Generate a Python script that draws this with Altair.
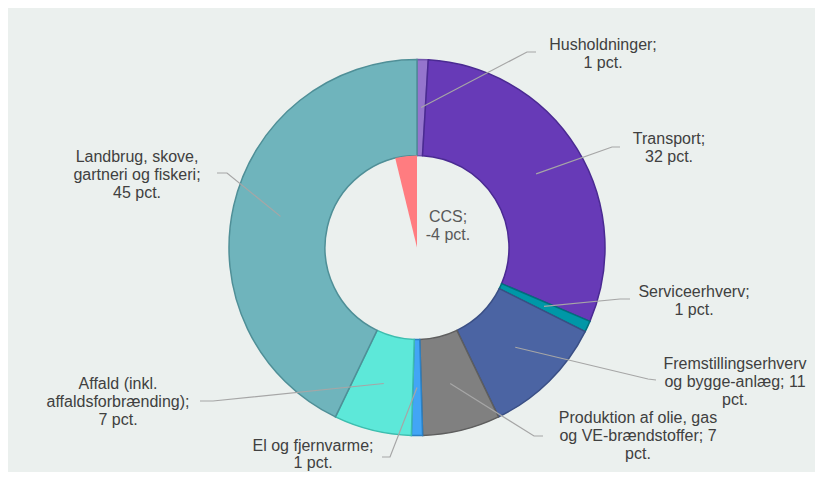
import math
import altair as alt
import pandas as pd

# ---- data ----
categories = [
    "Husholdninger",
    "Transport",
    "Serviceerhverv",
    "Fremstillingserhverv og bygge-anlæg",
    "Produktion af olie, gas og VE-brændstoffer",
    "El og fjernvarme",
    "Affald (inkl. affaldsforbrænding)",
    "Landbrug, skove, gartneri og fiskeri",
]
values = [1, 32, 1, 11, 7, 1, 7, 45]
ccs_label = "CCS"
ccs_value = -4

label_lines = [
    ["Husholdninger;", "1 pct."],
    ["Transport;", "32 pct."],
    ["Serviceerhverv;", "1 pct."],
    ["Fremstillingserhverv", "og bygge-anlæg; 11", "pct."],
    ["Produktion af olie, gas", "og VE-brændstoffer; 7", "pct."],
    ["El og fjernvarme;", "1 pct."],
    ["Affald (inkl.", "affaldsforbrænding);", "7 pct."],
    ["Landbrug, skove,", "gartneri og fiskeri;", "45 pct."],
]
ccs_lines = ["CCS;", "-4 pct."]

# ---- styles / layout ----
fills = ["#9575cd", "#673ab7", "#0097a7", "#4b64a3", "#808080", "#42a5f5", "#5de8d9", "#6fb4bc"]
strokes = ["#7356ad", "#4a2a92", "#00707c", "#3a4f85", "#5e5e5e", "#2b80c4", "#3dbdae", "#4f8f97"]
ccs_fill = "#ff7c80"

M = 8  # page margin
CX, CY = 417 - M, 247.5 - M
R_OUT, R_IN, R_LEAD = 188, 92, 140
total = sum(values)

# label anchor (center x, first-line y) in page pixels
label_pos = [(603, 45), (669, 139), (694, 292), (735, 364), (638, 418),
             (313, 446), (118, 384), (137, 157)]
line_gap = [18, 18, 18, 18, 18, 17, 18, 18]
ccs_pos = (448, 217)
# leader line elbow and end in page pixels
elbows = [(527, 52), (612, 147), (620, 299), (648, 379), (534, 436),
          (390, 457), (213, 401), (227, 173)]
ends = [(536, 52), (620, 147), (630, 299), (656, 380), (543, 436),
        (382, 457), (200, 401), (217, 173)]
LH = 18
FS = 16

# ---- tables ----
start, acc = [], 0
for v in values:
    start.append(acc)
    acc += v
df = pd.DataFrame({"cat": categories, "value": values, "start": start})
df["end"] = df["start"] + df["value"]

ccs_df = pd.DataFrame({"cat": [ccs_label], "start": [ccs_value], "end": [0]})

line_rows = []
for i, c in enumerate(categories):
    mid = (start[i] + values[i] / 2) / total * 2 * math.pi
    sx = CX + R_LEAD * math.sin(mid)
    sy = CY - R_LEAD * math.cos(mid)
    line_rows.append({"cat": c, "o": 0, "x": sx, "y": sy})
    line_rows.append({"cat": c, "o": 1, "x": elbows[i][0] - M, "y": elbows[i][1] - M})
    line_rows.append({"cat": c, "o": 2, "x": ends[i][0] - M, "y": ends[i][1] - M})
lines_df = pd.DataFrame(line_rows)

text_rows = []
for i, c in enumerate(categories):
    for j, t in enumerate(label_lines[i]):
        text_rows.append({"cat": c, "t": t, "x": label_pos[i][0] - M,
                          "y": label_pos[i][1] - M + j * line_gap[i]})
text_df = pd.DataFrame(text_rows)
ccs_text_df = pd.DataFrame([
    {"t": t, "x": ccs_pos[0] - M, "y": ccs_pos[1] - M + j * LH} for j, t in enumerate(ccs_lines)
])

theta_scale = alt.Scale(domain=[0, total], range=[0, 2 * math.pi])

ring = alt.Chart(df).mark_arc(outerRadius=R_OUT, innerRadius=R_IN, strokeWidth=1.5).encode(
    theta=alt.Theta("start:Q", scale=theta_scale, stack=None),
    theta2="end:Q",
    color=alt.Color("cat:N", scale=alt.Scale(domain=categories, range=fills), legend=None),
    stroke=alt.Stroke("cat:N", scale=alt.Scale(domain=categories, range=strokes), legend=None),
    x=alt.value(CX),
    y=alt.value(CY),
)

ccs_arc = alt.Chart(ccs_df).mark_arc(outerRadius=R_IN, innerRadius=0, color=ccs_fill).encode(
    theta=alt.Theta("start:Q", scale=theta_scale, stack=None),
    theta2="end:Q",
    x=alt.value(CX),
    y=alt.value(CY),
)

leaders = alt.Chart(lines_df).mark_line(color="#a6a6a6", strokeWidth=1.2).encode(
    x=alt.X("x:Q", scale=None),
    y=alt.Y("y:Q", scale=None),
    detail="cat:N",
    order="o:Q",
)

labels = alt.Chart(text_df).mark_text(
    font="Liberation Sans", fontSize=FS, color="#404040", align="center", baseline="middle"
).encode(x=alt.X("x:Q", scale=None), y=alt.Y("y:Q", scale=None), text="t:N")

ccs_text = alt.Chart(ccs_text_df).mark_text(
    font="Liberation Sans", fontSize=FS, color="#595959", align="center", baseline="middle"
).encode(x=alt.X("x:Q", scale=None), y=alt.Y("y:Q", scale=None), text="t:N")

chart = alt.layer(ring, ccs_arc, leaders, labels, ccs_text).properties(
    width=807, height=464, background="#ebf0ee", padding=0,
    autosize=alt.AutoSizeParams(type="none"),
).configure_view(stroke=None)

chart.save("out.html", embed_options={"renderer": "svg", "actions": False})
